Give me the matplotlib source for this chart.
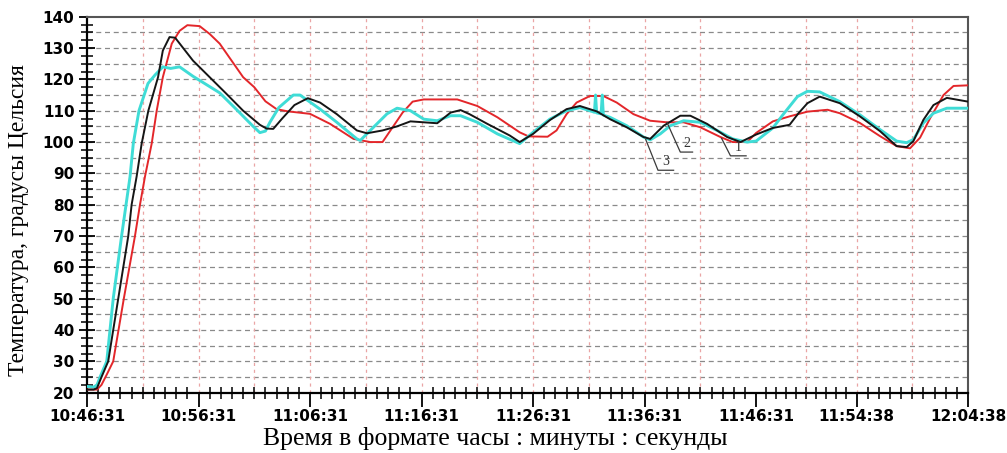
import matplotlib
matplotlib.use("Agg")
import matplotlib.pyplot as plt
import numpy as np

# time axis in minutes from 10:46:31 (recorder scale)
tick_pos = [0, 10, 20, 30, 40, 50, 60, 69, 79]
tick_lbl = ["10:46:31", "10:56:31", "11:06:31", "11:16:31", "11:26:31",
            "11:36:31", "11:46:31", "11:54:38", "12:04:38"]
vgrid = [5, 10, 15, 20, 25, 30, 35, 40, 45, 50, 55, 64.5, 69, 74]

# curve 1 (red)
t1 = [0, 0.9, 1.3, 1.8, 2.35, 3.3, 4.3, 4.75, 5.2, 5.8, 6.25, 6.8, 7.6, 8.3, 9.0,
      10.1, 11.0, 11.9, 14, 15, 16, 17, 18, 20, 21.8, 23.9, 25.4, 26.5, 27.4,
      28.3, 29.2, 30.2, 33.2, 35, 36.8, 38.8, 39.6, 41.3, 42.1, 43, 43.9, 45.1,
      46.3, 47.5, 49, 50.5, 52, 53.5, 55, 56.8, 57.9, 59.2, 60, 61.5, 63, 64.6,
      66.4, 67.5, 69.3, 71.1, 72.6, 73.8, 74.7, 75.6, 76.8, 77.7, 79]
y1 = [21, 21, 22.5, 26, 30, 50, 70, 80, 89, 99.5, 110, 120.7, 131.4, 135.5, 137.3,
      137, 134.5, 131.4, 120.7, 117.5, 113, 110.5, 109.8, 109, 105.8, 101, 100, 100, 104.7,
      109.4, 112.9, 113.6, 113.6, 111.5, 107.9, 103.1, 101.8, 101.7, 103.7, 108.9, 112.6, 114.7,
      114.7, 112.6, 108.9, 106.8, 106.3, 106.3, 104.7, 101.6, 100, 100, 102.9, 106.6, 108.2, 109.7,
      110.3, 109.2, 106.1, 101.9, 98.7, 98, 101.4, 107.6, 115, 117.9, 118.1]

# curve 2 (black)
t2 = [0, 0.6, 0.9, 1.3, 1.9, 2.8, 3.7, 4.0, 4.45, 4.9, 5.5, 6.37, 6.8, 7.4, 7.9,
      9.5, 11, 12.5, 14, 15.5, 16.1, 16.7, 17.5, 18.6, 19.8, 20.9, 22.4, 24.2, 25.1,
      26.5, 27.8, 29, 30.2, 31.4, 32.6, 33.5, 34.3, 35.9, 37.9, 38.8, 40, 41.5, 43,
      44.2, 45.7, 46.9, 48.4, 49.9, 50.5, 51.7, 53.2, 54.1, 55.6, 57.4, 58.6, 60,
      61.5, 63, 63.8, 64.6, 65.7, 67.5, 69.3, 71.1, 72.6, 73.5, 74.1, 75, 75.9, 77.1, 79]
y2 = [21, 21, 21.5, 25, 30, 50, 70, 80, 89, 99.5, 110, 120.7, 129.2, 133.5, 133.3,
      126, 120.7, 115.4, 110, 105.5, 104.3, 104.2, 107.5, 111.8, 114, 112.6, 108.9, 103.7, 102.8,
      103.7, 105, 106.6, 106.3, 106, 109.4, 110.2, 108.9, 105.8, 102.1, 100, 102.6, 107, 110.5,
      111.5, 109.8, 107.3, 104.7, 101.6, 101, 105.2, 108.4, 108.4, 105.8, 101.6, 100, 102.4,
      104.5, 105.5, 109.2, 112.4, 114.5, 112.4, 108.2, 103.5, 98.7, 98.4, 100.3, 107.1, 111.8, 114.1, 112.9]

# curve 3 (cyan)
t3 = [0, 0.6, 0.9, 1.17, 1.77, 2.35, 3.1, 3.5, 3.86, 4.15, 4.66, 5.47, 6.1, 6.8, 7.5,
      8.3, 9.5, 11.9, 13.4, 14.9, 15.5, 16.0, 16.4, 17.2, 18.5, 19.1, 20.9, 22.4, 24.2,
      24.5, 25.4, 26.9, 27.8, 29, 30.2, 31.4, 32.6, 33.5, 35, 36.8, 38.8, 40, 41.5, 43,
      44.2, 45.1, 45.5, 45.6, 45.7, 46.1, 46.2, 46.3, 46.9, 48.4, 49.9, 50.5, 51.4, 52.3,
      53.5, 55, 56.5, 57.9, 59.2, 60, 61.5, 62.4, 63.7, 64.6, 65.7, 67.5, 69.3, 71.1,
      72.6, 73.5, 74.1, 75, 75.9, 77.1, 79]
y3 = [22, 21.8, 22.5, 25, 30, 50, 70, 80, 89, 99.5, 110, 118.7, 121.4, 124, 123.5,
      124, 121, 115.7, 110.4, 105, 103, 103.5, 106.3, 111, 115, 115, 110.5, 106.3, 101,
      100.5, 103.7, 109, 110.8, 110, 107.3, 106.8, 108.4, 108.4, 106.3, 102.6, 99.5, 103.1, 107.3, 110,
      111, 110, 109.5, 115, 109.3, 109, 115, 108.6, 107.9, 105.2, 101.6, 100.7, 102.6, 105.2,
      106.8, 106.3, 103.7, 101, 100, 100.3, 104.5, 108.7, 114.5, 116.2, 116, 112.9, 108.7, 104,
      100.3, 99.8, 100.8, 106.1, 109.2, 110.8, 110.8]

# leader lines for curve numbers: (text, start, knee, end)
marks = [("3", (50.1, 100.8), (51.2, 91.0), (52.6, 91.0)),
         ("2", (52.0, 106.3), (53.2, 96.8), (54.3, 96.8)),
         ("1", (56.9, 101.2), (57.7, 95.6), (59.1, 95.6))]

fig = plt.figure(figsize=(10.07, 4.53), dpi=100)
ax = fig.add_axes([0.0864, 0.1331, 0.8749, 0.83])

for v in np.arange(25, 140, 5):
    ax.axhline(v, color="#8a8a8a", lw=0.9, ls=(0, (4, 3)), zorder=1)
for v in vgrid:
    ax.axvline(v, color="#eaa5a5", lw=0.9, ls=(0, (2.5, 3)), zorder=1)

ax.plot(t1, y1, color="#e3262a", lw=1.4, zorder=3)
ax.plot(t2, y2, color="#151515", lw=1.4, zorder=4)
ax.plot(t3, y3, color="#3fdcd6", lw=2.1, zorder=3.5)

for lab, a, b, c in marks:
    ax.plot([a[0], b[0], c[0]], [a[1], b[1], c[1]], color="#3a3a3a", lw=0.9, zorder=5)
    ax.text((b[0] + c[0]) / 2, b[1] + 0.6, lab, fontsize=10, color="#333333",
            family="Liberation Serif", ha="center", va="bottom", zorder=5)

ax.set_xlim(0, 79)
ax.set_ylim(20, 140)
ax.set_xticks(tick_pos)
ax.set_xticklabels(tick_lbl)
minor_x = np.concatenate([np.linspace(a, b, 11)[1:-1] for a, b in zip(tick_pos[:-1], tick_pos[1:])])
ax.set_xticks(minor_x, minor=True)
ax.set_yticks(np.arange(20, 141, 10))
ax.set_yticks(np.arange(20, 140, 2.5), minor=True)

ax.tick_params(axis="both", which="major", labelsize=11, width=1.3, color="black")
ax.tick_params(axis="x", which="major", direction="out", length=10, pad=2)
ax.tick_params(axis="x", which="minor", direction="inout", length=8, width=1.1)
ax.tick_params(axis="y", which="major", direction="inout", length=12, pad=3)
ax.tick_params(axis="y", which="minor", direction="inout", length=8, width=1.1)
for lbl in ax.get_xticklabels() + ax.get_yticklabels():
    lbl.set_fontweight("bold")

ax.spines["left"].set_linewidth(1.6)
ax.spines["bottom"].set_linewidth(1.6)
ax.spines["top"].set_color("#555555")
ax.spines["right"].set_color("#555555")
ax.spines["top"].set_linewidth(1.5)
ax.spines["right"].set_linewidth(1.5)

ax.set_ylabel("Температура, градусы Цельсия", family="Liberation Serif", fontsize=17)
ax.yaxis.set_label_coords(-0.066, 0.46)
ax.set_xlabel("Время в формате часы : минуты : секунды", family="Liberation Serif", fontsize=18.5)
ax.xaxis.set_label_coords(0.463, -0.09)

fig.savefig("out.png", dpi=100)
